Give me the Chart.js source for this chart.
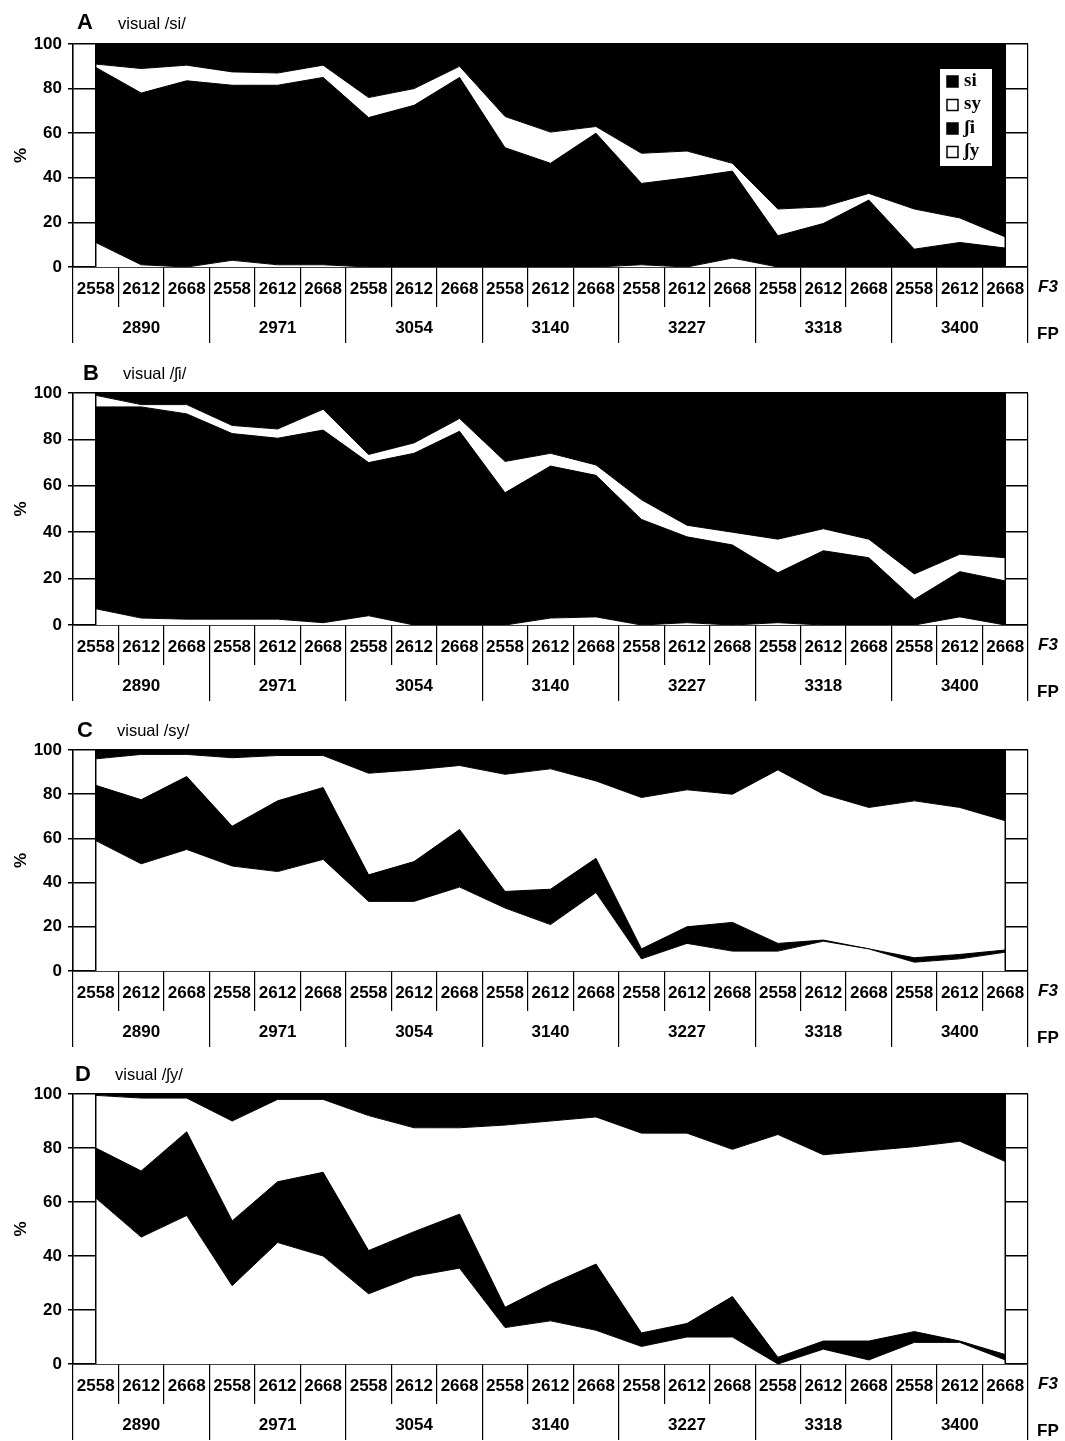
<!DOCTYPE html>
<html>
<head>
<meta charset="utf-8">
<script src="https://cdn.jsdelivr.net/npm/chart.js@4/dist/chart.umd.min.js"></script>
<style>
  body { margin: 0; background: #fff; }
  #page { position: relative; width: 1065px; height: 1441px; overflow: hidden; font-family: "Liberation Sans", Arial, sans-serif; color: #000; }
  .panel { position: absolute; left: 0; }
  .letter { position: absolute; font-weight: bold; font-size: 22px; line-height: 22px; }
  .caption { position: absolute; font-size: 16.5px; line-height: 16px; }
</style>
</head>
<body>
<div id="page"></div>
<script>
// category labels
const f3Labels = ['2558', '2612', '2668', '2558', '2612', '2668', '2558', '2612', '2668', '2558', '2612', '2668',
    '2558', '2612', '2668', '2558', '2612', '2668', '2558', '2612', '2668'];
const fpLabels = ['2890', '2971', '3054', '3140', '3227', '3318', '3400'];
const responseNames = ['si', 'sy', 'ʃi', 'ʃy'];
const yTicks = [0, 20, 40, 60, 80, 100];

// A: visual /si/
const siA = [9, 11, 9.5, 12.5, 13, 9.5, 24, 20, 10, 32.5, 39.5, 37, 49, 48, 53.5, 74, 73, 67, 74, 78, 86.5];
const syA = [1.5, 11, 7, 6, 5.5, 5.5, 9, 7.5, 5, 14, 14, 3, 13.5, 12, 3.5, 12, 7.5, 3, 18, 11, 5];
const shiA = [78.5, 77, 83.5, 78.5, 80.5, 84, 67, 72.5, 85, 53.5, 46.5, 60, 36.5, 40, 39, 14, 19.5, 30, 8, 11, 8.5];
const shyA = [11, 1, 0, 3, 1, 1, 0, 0, 0, 0, 0, 0, 1, 0, 4, 0, 0, 0, 0, 0, 0];

// B: visual /ʃi/
const siB = [1, 5, 5, 14, 15.5, 7, 26.5, 21.5, 11, 29.5, 26, 31, 46, 57, 60, 63, 58.5, 63, 78, 69.5, 71];
const syB = [5, 1, 4, 3.5, 4, 9, 3.5, 4.5, 5.5, 13.5, 5.5, 4.5, 8.5, 5, 5.5, 14.5, 9.5, 8, 11, 7.5, 10];
const shiB = [87, 91, 88.5, 80, 78, 83, 66, 74, 83.5, 57, 65.5, 61, 45.5, 37, 34.5, 21.5, 32, 29, 11, 19.5, 19];
const shyB = [7, 3, 2.5, 2.5, 2.5, 1, 4, 0, 0, 0, 3, 3.5, 0, 1, 0, 1, 0, 0, 0, 3.5, 0];

// C: visual /sy/
const siC = [4, 2, 2, 3.5, 2.5, 2.5, 10.5, 9, 7, 11, 8.5, 14, 21.5, 18, 20, 9, 20, 26, 23, 26, 32];
const syC = [12, 20.5, 10, 31, 20.5, 14.5, 46, 41.5, 29, 53, 54.5, 35, 68.5, 62, 58, 78.5, 66, 64, 71, 66.5, 58.5];
const shiC = [25, 29, 33, 18, 32, 32.5, 12, 18, 26, 7.5, 16, 15.5, 4.5, 7.5, 13, 3.5, 0.5, 0, 2, 2, 1];
const shyC = [59, 48.5, 55, 47.5, 45, 50.5, 31.5, 31.5, 38, 28.5, 21, 35.5, 5.5, 12.5, 9, 9, 13.5, 10, 4, 5.5, 8.5];

// D: visual /ʃy/
const siD = [0.5, 1.5, 1.5, 10, 2, 2, 8, 12.5, 12.5, 11.5, 10, 8.5, 14.5, 14.5, 20.5, 15, 22.5, 21, 19.5, 17.5, 25];
const syD = [19.5, 27, 12.5, 37, 30.5, 27, 50, 38.5, 32, 67.5, 60.5, 54.5, 74, 70.5, 54.5, 82.5, 69, 70.5, 68.5, 74, 71.5];
const shiD = [18.5, 24.5, 31, 24, 22.5, 31, 16, 16.5, 20, 7.5, 13.5, 24.5, 5, 5, 15, 2.5, 3, 7, 4, 0.5, 2];
const shyD = [61.5, 47, 55, 29, 45, 40, 26, 32.5, 35.5, 13.5, 16, 12.5, 6.5, 10, 10, 0, 5.5, 1.5, 8, 8, 1.5];

const FONT = '"Liberation Sans", Arial, sans-serif';
Chart.defaults.font.family = FONT;
Chart.defaults.color = '#000';

const panels = [
    { letter: 'A', caption: 'visual /si/', series: [siA, syA, shiA, shyA], top: 0, height: 350, padTop: 44, padBottom: 7, legend: true,
      letterX: 77, letterY: 11, capX: 118, capY: 15 },
    { letter: 'B', caption: 'visual /ʃi/', series: [siB, syB, shiB, shyB], top: 350, height: 360, padTop: 43, padBottom: 9, legend: false,
      letterX: 83, letterY: 12, capX: 123, capY: 15 },
    { letter: 'C', caption: 'visual /sy/', series: [siC, syC, shiC, shyC], top: 710, height: 345, padTop: 40, padBottom: 8, legend: false,
      letterX: 77, letterY: 9, capX: 117, capY: 12 },
    { letter: 'D', caption: 'visual /ʃy/', series: [siD, syD, shiD, shyD], top: 1055, height: 386, padTop: 39, padBottom: 1, legend: false,
      letterX: 75, letterY: 8, capX: 115, capY: 11 }
];

// vertical outline of the stacked areas at the first and last point
const edgeLines = {
    id: 'edgeLines',
    afterDatasetsDraw(chart) {
        const { ctx, scales: { x, y } } = chart;
        const n = chart.data.labels.length;
        ctx.save();
        ctx.strokeStyle = '#000';
        ctx.lineWidth = 1.5;
        [0, n - 1].forEach(i => {
            const px = x.getPixelForValue(i);
            ctx.beginPath();
            ctx.moveTo(px, y.getPixelForValue(0));
            ctx.lineTo(px, y.getPixelForValue(100));
            ctx.stroke();
        });
        ctx.restore();
    }
};

// "F3" / "FP" names at the right end of the two label rows
const axisNames = {
    id: 'axisNames',
    afterDraw(chart) {
        const { ctx, chartArea, scales } = chart;
        ctx.save();
        ctx.fillStyle = '#000';
        ctx.textBaseline = 'middle';
        ctx.textAlign = 'left';
        ctx.font = 'italic bold 17px ' + FONT;
        ctx.fillText('F3', chartArea.right + 10, scales.x.top + 20);
        ctx.font = 'bold 17px ' + FONT;
        ctx.fillText('FP', chartArea.right + 9, scales.fp.bottom - 9);
        ctx.restore();
    }
};

// legend box drawn inside the plot (panel A only)
const innerLegend = {
    id: 'innerLegend',
    afterDatasetsDraw(chart, args, opts) {
        if (!opts.show) return;
        const { ctx, chartArea } = chart;
        const left = chartArea.right - 88;
        const top = chartArea.top + 25;
        ctx.save();
        ctx.fillStyle = '#fff';
        ctx.fillRect(left, top, 52, 97);
        const items = chart.data.datasets.slice().reverse();
        items.forEach((ds, i) => {
            const cy = top + 13 + i * 23.5;
            ctx.fillStyle = ds.backgroundColor;
            ctx.fillRect(left + 7, cy - 6, 11, 11);
            ctx.strokeStyle = '#000';
            ctx.lineWidth = 1.5;
            ctx.strokeRect(left + 7, cy - 6, 11, 11);
            ctx.fillStyle = '#000';
            ctx.font = 'bold 19px "Liberation Serif", "DejaVu Serif", serif';
            ctx.textBaseline = 'middle';
            ctx.fillText(ds.label, left + 24, cy - 1);
        });
        ctx.restore();
    }
};

function makeDatasets(series) {
    const [si, sy, shi, shy] = series;
    // stacked from the bottom: ʃy, ʃi, sy, si
    const stack = [
        [responseNames[3], shy, '#fff'],
        [responseNames[2], shi, '#000'],
        [responseNames[1], sy, '#fff'],
        [responseNames[0], si, '#000']
    ];
    return stack.map(([label, data, color], i) => ({
        label,
        data,
        backgroundColor: color,
        borderColor: '#000',
        borderWidth: 1,
        pointRadius: 0,
        tension: 0,
        fill: i === 0 ? 'origin' : '-1'
    }));
}

const page = document.getElementById('page');
const tickFont = { size: 17, weight: 'bold' };

panels.forEach(p => {
    const box = document.createElement('div');
    box.className = 'panel';
    box.style.top = p.top + 'px';
    box.style.width = '1065px';
    box.style.height = p.height + 'px';
    box.innerHTML = `
        <canvas width="1065" height="${p.height}"></canvas>
        <div class="letter" style="left:${p.letterX}px; top:${p.letterY}px">${p.letter}</div>
        <div class="caption" style="left:${p.capX}px; top:${p.capY}px">${p.caption}</div>
    `;
    page.appendChild(box);

    new Chart(box.querySelector('canvas'), {
        type: 'line',
        data: {
            labels: f3Labels,
            datasets: makeDatasets(p.series)
        },
        options: {
            responsive: false,
            animation: false,
            layout: { padding: { top: p.padTop, bottom: p.padBottom, left: 0, right: 37 } },
            plugins: {
                legend: { display: false },
                tooltip: { enabled: false },
                innerLegend: { show: p.legend }
            },
            scales: {
                y: {
                    stacked: true,
                    min: 0,
                    max: 100,
                    afterBuildTicks: s => { s.ticks = yTicks.map(v => ({ value: v })); },
                    ticks: { color: '#000', font: tickFont, padding: 6 },
                    grid: { color: '#000', lineWidth: 1.5, tickLength: 5 },
                    border: { color: '#000', width: 1.5 },
                    title: { display: true, text: '%', color: '#000', font: { size: 17, weight: 'bold' }, padding: { top: 11, bottom: 0 } },
                    afterFit: s => { s.width = 73; }
                },
                x: {
                    type: 'category',
                    offset: true,
                    weight: 1,
                    grid: {
                        offset: true,
                        lineWidth: 1.2,
                        tickLength: 40,
                        color: c => (c.index === f3Labels.length ? '#888' : '#000'),
                        tickColor: '#000'
                    },
                    border: { color: '#000', width: 1.5 },
                    ticks: { color: '#000', font: tickFont, padding: -28, maxRotation: 0, autoSkip: false },
                    afterFit: s => { s.height = 40; }
                },
                fp: {
                    type: 'category',
                    labels: fpLabels,
                    position: 'bottom',
                    offset: true,
                    weight: 2,
                    grid: { offset: true, color: '#000', lineWidth: 1.2, tickLength: 36, drawOnChartArea: false },
                    border: { display: false },
                    ticks: { color: '#000', font: tickFont, padding: -25, maxRotation: 0, autoSkip: false },
                    afterFit: s => { s.height = 36; }
                }
            }
        },
        plugins: [edgeLines, axisNames, innerLegend]
    });
});
</script>
</body>
</html>
